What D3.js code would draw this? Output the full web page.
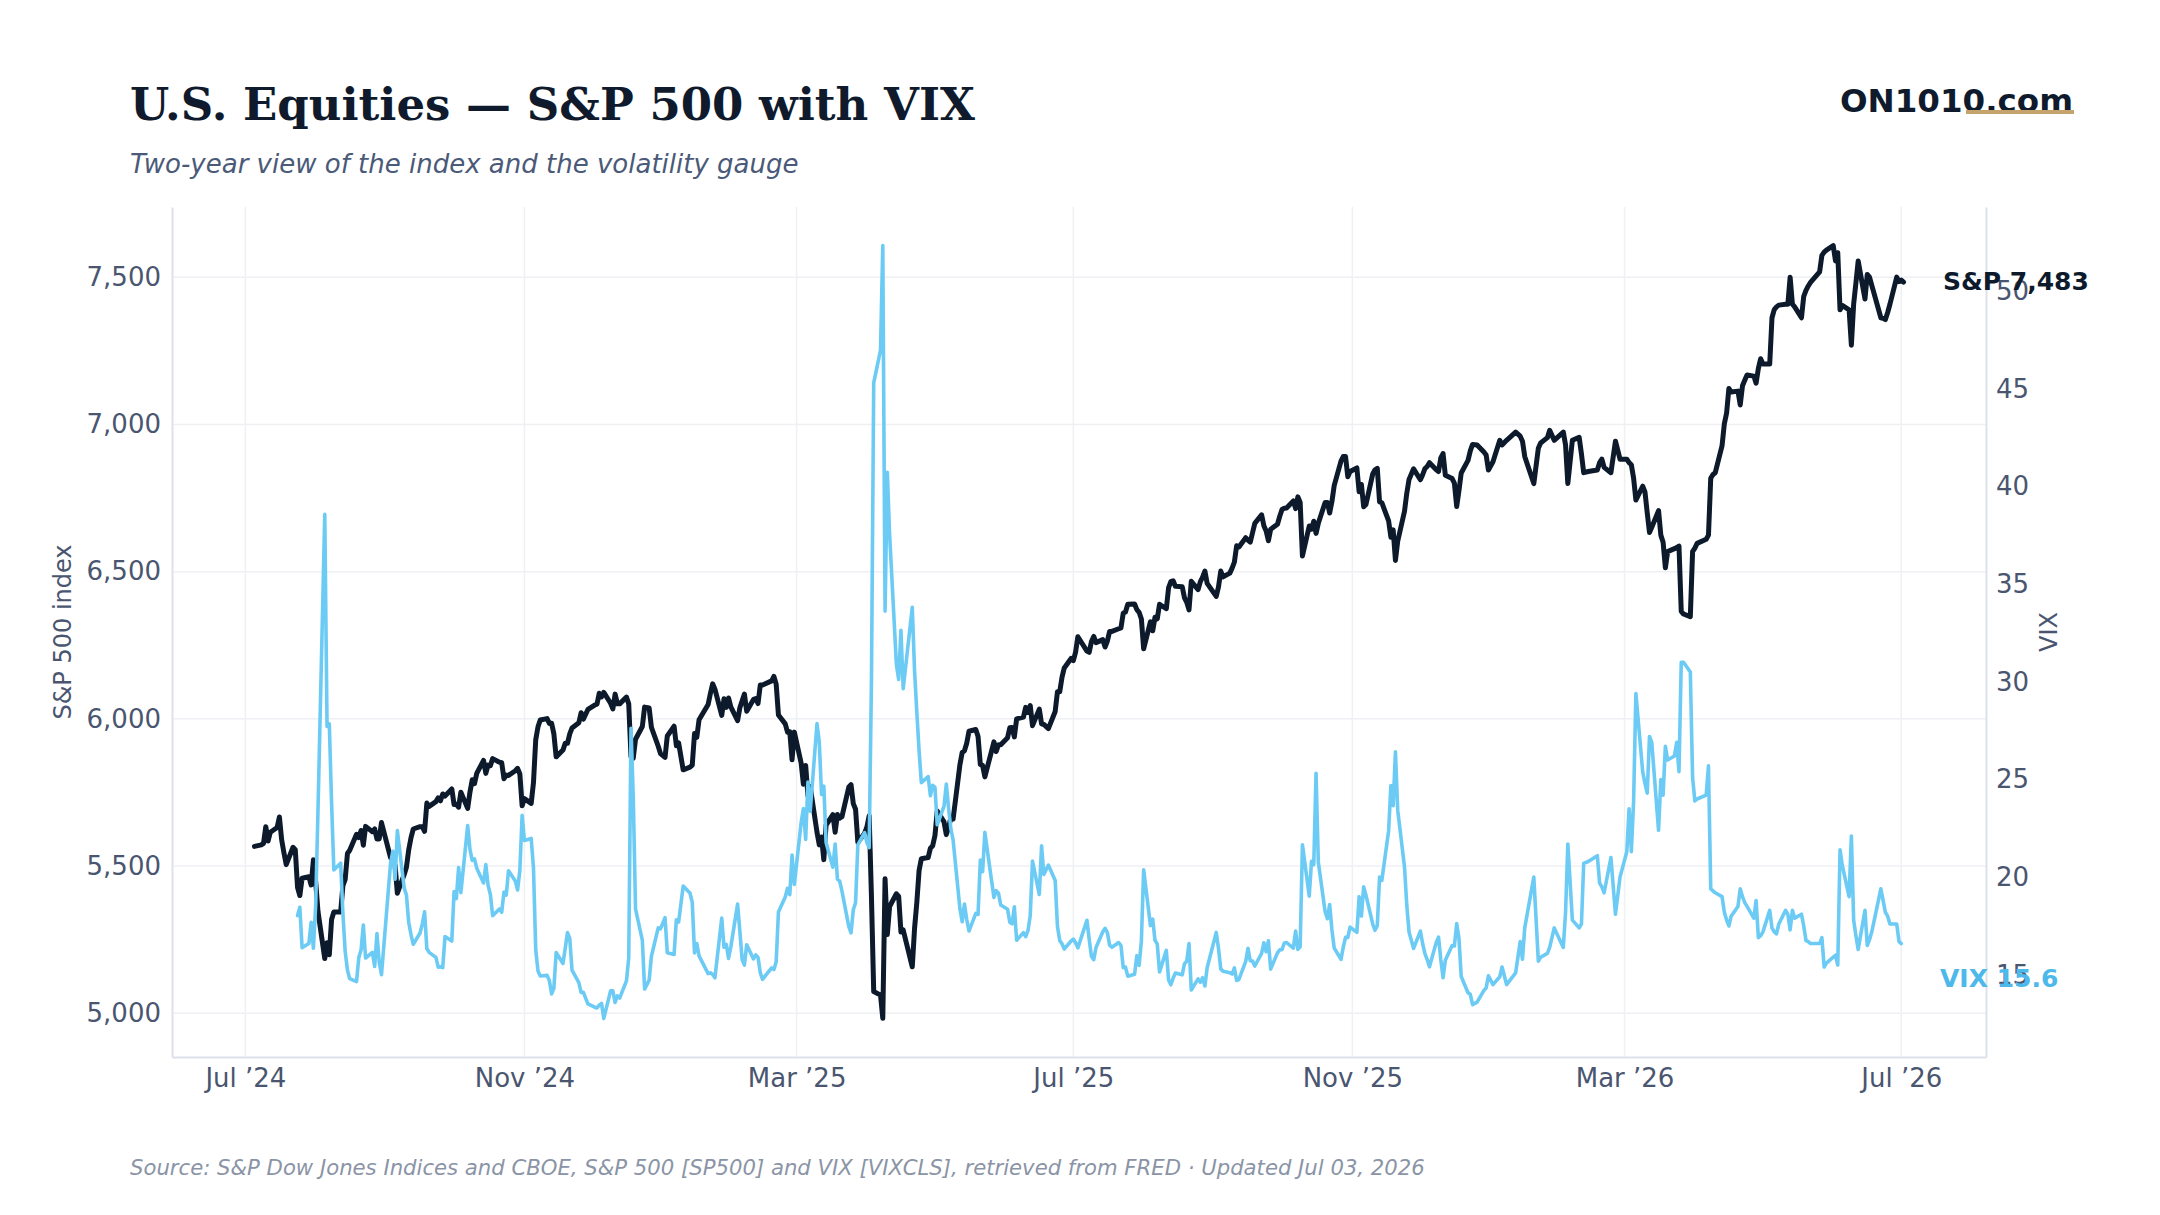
<!DOCTYPE html>
<html><head><meta charset="utf-8">
<script src="https://cdn.jsdelivr.net/npm/d3@7"></script>
<style>html,body{margin:0;padding:0;background:#fff;} svg{display:block;}</style>
</head><body><svg id="c" width="2160" height="1215"></svg>
<script>
// ---- data ----
const dates = [
"2024-07-05","2024-07-08","2024-07-09","2024-07-10","2024-07-11","2024-07-12","2024-07-15","2024-07-16","2024-07-17","2024-07-18","2024-07-19","2024-07-22","2024-07-23","2024-07-24","2024-07-25","2024-07-26","2024-07-29","2024-07-30","2024-07-31",
"2024-08-01","2024-08-02","2024-08-05","2024-08-06","2024-08-07","2024-08-08","2024-08-09","2024-08-12","2024-08-13","2024-08-14","2024-08-15","2024-08-16","2024-08-19","2024-08-20","2024-08-21","2024-08-22","2024-08-23","2024-08-26","2024-08-27","2024-08-28","2024-08-29","2024-08-30",
"2024-09-03","2024-09-04","2024-09-05","2024-09-06","2024-09-09","2024-09-10","2024-09-11","2024-09-12","2024-09-13","2024-09-16","2024-09-17","2024-09-18","2024-09-19","2024-09-20","2024-09-23","2024-09-24","2024-09-25","2024-09-26","2024-09-27","2024-09-30",
"2024-10-01","2024-10-02","2024-10-03","2024-10-04","2024-10-07","2024-10-08","2024-10-09","2024-10-10","2024-10-11","2024-10-14","2024-10-15","2024-10-16","2024-10-17","2024-10-18","2024-10-21","2024-10-22","2024-10-23","2024-10-24","2024-10-25","2024-10-28","2024-10-29","2024-10-30","2024-10-31",
"2024-11-01","2024-11-04","2024-11-05","2024-11-06","2024-11-07","2024-11-08","2024-11-11","2024-11-12","2024-11-13","2024-11-14","2024-11-15","2024-11-18","2024-11-19","2024-11-20","2024-11-21","2024-11-22","2024-11-25","2024-11-26","2024-11-27","2024-11-29",
"2024-12-02","2024-12-03","2024-12-04","2024-12-05","2024-12-06","2024-12-09","2024-12-10","2024-12-11","2024-12-12","2024-12-13","2024-12-16","2024-12-17","2024-12-18","2024-12-19","2024-12-20","2024-12-23","2024-12-24","2024-12-26","2024-12-27","2024-12-30","2024-12-31",
"2025-01-02","2025-01-03","2025-01-06","2025-01-07","2025-01-08","2025-01-10","2025-01-13","2025-01-14","2025-01-15","2025-01-16","2025-01-17","2025-01-21","2025-01-22","2025-01-23","2025-01-24","2025-01-27","2025-01-28","2025-01-29","2025-01-30","2025-01-31",
"2025-02-03","2025-02-04","2025-02-05","2025-02-06","2025-02-07","2025-02-10","2025-02-11","2025-02-12","2025-02-13","2025-02-14","2025-02-18","2025-02-19","2025-02-20","2025-02-21","2025-02-24","2025-02-25","2025-02-26","2025-02-27","2025-02-28",
"2025-03-03","2025-03-04","2025-03-05","2025-03-06","2025-03-07","2025-03-10","2025-03-11","2025-03-12","2025-03-13","2025-03-14","2025-03-17","2025-03-18","2025-03-19","2025-03-20","2025-03-21","2025-03-24","2025-03-25","2025-03-26","2025-03-27","2025-03-28","2025-03-31",
"2025-04-01","2025-04-02","2025-04-03","2025-04-04","2025-04-07","2025-04-08","2025-04-09","2025-04-10","2025-04-11","2025-04-14","2025-04-15","2025-04-16","2025-04-17","2025-04-21","2025-04-22","2025-04-23","2025-04-24","2025-04-25","2025-04-28","2025-04-29","2025-04-30",
"2025-05-01","2025-05-02","2025-05-05","2025-05-06","2025-05-07","2025-05-08","2025-05-09","2025-05-12","2025-05-13","2025-05-14","2025-05-15","2025-05-16","2025-05-19","2025-05-20","2025-05-21","2025-05-22","2025-05-23","2025-05-27","2025-05-28","2025-05-29","2025-05-30",
"2025-06-02","2025-06-03","2025-06-04","2025-06-05","2025-06-06","2025-06-09","2025-06-10","2025-06-11","2025-06-12","2025-06-13","2025-06-16","2025-06-17","2025-06-18","2025-06-20","2025-06-23","2025-06-24","2025-06-25","2025-06-26","2025-06-27","2025-06-30",
"2025-07-01","2025-07-02","2025-07-03","2025-07-07","2025-07-08","2025-07-09","2025-07-10","2025-07-11","2025-07-14","2025-07-15","2025-07-16","2025-07-17","2025-07-18","2025-07-21","2025-07-22","2025-07-23","2025-07-24","2025-07-25","2025-07-28","2025-07-29","2025-07-30","2025-07-31",
"2025-08-01","2025-08-04","2025-08-05","2025-08-06","2025-08-07","2025-08-08","2025-08-11","2025-08-12","2025-08-13","2025-08-14","2025-08-15","2025-08-18","2025-08-19","2025-08-20","2025-08-21","2025-08-22","2025-08-25","2025-08-26","2025-08-27","2025-08-28","2025-08-29",
"2025-09-02","2025-09-03","2025-09-04","2025-09-05","2025-09-08","2025-09-09","2025-09-10","2025-09-11","2025-09-12","2025-09-15","2025-09-16","2025-09-17","2025-09-18","2025-09-19","2025-09-22","2025-09-23","2025-09-24","2025-09-25","2025-09-26","2025-09-29","2025-09-30",
"2025-10-01","2025-10-02","2025-10-03","2025-10-06","2025-10-07","2025-10-08","2025-10-09","2025-10-10","2025-10-13","2025-10-14","2025-10-15","2025-10-16","2025-10-17","2025-10-20","2025-10-21","2025-10-22","2025-10-23","2025-10-24","2025-10-27","2025-10-28","2025-10-29","2025-10-30","2025-10-31",
"2025-11-03","2025-11-04","2025-11-05","2025-11-06","2025-11-07","2025-11-10","2025-11-11","2025-11-12","2025-11-13","2025-11-14","2025-11-17","2025-11-18","2025-11-19","2025-11-20","2025-11-21","2025-11-24","2025-11-25","2025-11-26","2025-11-28",
"2025-12-01","2025-12-02","2025-12-03","2025-12-04","2025-12-05","2025-12-08","2025-12-09","2025-12-10","2025-12-11","2025-12-12","2025-12-15","2025-12-16","2025-12-17","2025-12-18","2025-12-19","2025-12-22","2025-12-23","2025-12-24","2025-12-26","2025-12-29","2025-12-30","2025-12-31",
"2026-01-02","2026-01-05","2026-01-06","2026-01-08","2026-01-12","2026-01-14","2026-01-15","2026-01-16","2026-01-20","2026-01-22","2026-01-23","2026-01-26","2026-01-27","2026-01-29",
"2026-02-02","2026-02-03","2026-02-04","2026-02-06","2026-02-09","2026-02-10","2026-02-11","2026-02-13","2026-02-17","2026-02-18","2026-02-19","2026-02-20","2026-02-23","2026-02-25","2026-02-27",
"2026-03-02","2026-03-03","2026-03-04","2026-03-05","2026-03-06","2026-03-09","2026-03-10","2026-03-11","2026-03-12","2026-03-13","2026-03-16","2026-03-17","2026-03-18","2026-03-19","2026-03-20","2026-03-23","2026-03-24","2026-03-25","2026-03-26","2026-03-27","2026-03-30","2026-03-31",
"2026-04-01","2026-04-02","2026-04-06","2026-04-07","2026-04-08","2026-04-09","2026-04-10","2026-04-13","2026-04-14","2026-04-15","2026-04-16","2026-04-17","2026-04-20","2026-04-21","2026-04-22","2026-04-23","2026-04-24","2026-04-27","2026-04-28","2026-04-29","2026-04-30",
"2026-05-01","2026-05-04","2026-05-05","2026-05-06","2026-05-07","2026-05-08","2026-05-11","2026-05-12","2026-05-13","2026-05-14","2026-05-15","2026-05-18","2026-05-19","2026-05-20","2026-05-21","2026-05-22","2026-05-26","2026-05-27","2026-05-28","2026-05-29",
"2026-06-01","2026-06-02","2026-06-03","2026-06-04","2026-06-05","2026-06-08","2026-06-09","2026-06-10","2026-06-11","2026-06-12","2026-06-15","2026-06-16","2026-06-17","2026-06-18","2026-06-22","2026-06-23","2026-06-24","2026-06-25","2026-06-26","2026-06-29","2026-06-30",
"2026-07-01","2026-07-02"
];
const spx = [
5567,5572,5577,5634,5585,5615,5631,5667,5589,5545,5505,5564,5556,5427,5400,5459,5464,5436,5522,
5446,5346,5186,5240,5199,5319,5344,5344,5434,5455,5543,5554,5608,5597,5621,5571,5635,5617,5626,5592,5592,5648,
5529,5520,5503,5408,5471,5496,5555,5596,5626,5634,5634,5618,5714,5703,5719,5732,5722,5745,5738,5762,
5709,5710,5700,5751,5696,5751,5793,5780,5815,5859,5815,5843,5841,5865,5853,5851,5797,5809,5808,5824,5832,5813,5705,
5729,5713,5783,5929,5973,5996,6001,5984,5985,5949,5871,5894,5917,5917,5949,5969,5987,6021,5999,6032,
6047,6050,6087,6075,6090,6053,6034,6084,6051,6051,6074,6051,5872,5867,5931,5974,6040,6037,5971,5907,5882,
5869,5942,5975,5909,5918,5827,5836,5843,5950,5937,5997,6049,6086,6119,6101,6012,6068,6039,6071,6041,
5994,6038,6061,6084,6026,6066,6069,6052,6115,6115,6129,6144,6118,6013,5983,5955,5956,5861,5955,
5850,5778,5842,5739,5770,5615,5572,5599,5522,5639,5675,5615,5675,5663,5668,5768,5777,5712,5693,5581,5612,
5633,5671,5397,5074,5062,4983,5457,5268,5363,5406,5397,5276,5283,5158,5288,5376,5485,5525,5529,5561,5569,
5604,5687,5650,5607,5631,5664,5660,5844,5886,5892,5917,5958,5964,5940,5845,5842,5803,5922,5889,5912,5912,
5936,5970,5971,5939,6000,6006,6039,6022,6045,5977,6033,5983,5981,5967,6025,6092,6092,6141,6173,6205,
6198,6227,6279,6230,6226,6263,6280,6259,6269,6244,6264,6297,6297,6306,6309,6359,6363,6389,6390,6371,6362,6339,
6238,6330,6299,6345,6340,6389,6374,6446,6466,6469,6450,6449,6411,6396,6370,6467,6439,6466,6481,6502,6460,
6416,6448,6502,6482,6495,6512,6532,6588,6584,6615,6607,6600,6632,6664,6693,6656,6638,6605,6644,6661,6688,
6711,6715,6716,6740,6714,6754,6735,6553,6655,6644,6671,6630,6664,6735,6735,6699,6738,6792,6875,6891,6891,6822,6840,
6852,6771,6796,6720,6728,6832,6846,6851,6737,6734,6672,6617,6642,6538,6603,6705,6766,6813,6849,
6812,6829,6850,6857,6870,6846,6840,6886,6901,6827,6816,6800,6721,6775,6835,6878,6910,6932,6930,6906,6896,6845,
6873,6946,6930,6946,6974,6960,6943,6891,6799,6919,6937,6955,6980,6946,
6974,6930,6799,6946,6956,6900,6836,6840,6845,6870,6882,6854,6836,6943,6882,
6882,6870,6863,6817,6743,6790,6771,6700,6633,6651,6707,6624,6600,6513,6568,6578,6582,6587,6365,6356,6347,6568,
6580,6596,6610,6624,6817,6830,6836,6928,7002,7039,7122,7110,7113,7066,7131,7150,7168,7164,7140,7190,7223,
7205,7205,7362,7390,7399,7405,7408,7408,7500,7408,7399,7362,7435,7455,7470,7482,7518,7574,7585,7592,
7607,7555,7583,7389,7404,7389,7269,7408,7480,7555,7426,7509,7500,7472,7362,7360,7356,7380,7408,7500,7485,
7490,7483
];
const vix = [
null,null,null,null,null,null,null,null,null,null,null,null,null,18.04,18.46,16.39,16.60,17.69,16.36,
18.59,23.39,38.57,27.71,27.85,23.79,20.37,20.71,18.12,16.19,15.23,14.80,14.65,15.88,16.27,17.55,15.86,16.15,15.43,17.11,15.65,15.00,
20.72,21.32,19.90,22.38,19.45,19.08,17.69,17.07,16.56,17.14,17.61,18.23,16.33,16.15,15.89,15.39,15.41,15.37,16.96,16.73,
19.26,18.90,20.49,19.21,22.64,21.42,20.86,20.93,20.46,19.70,20.64,19.58,19.11,18.03,18.37,18.20,19.24,19.08,20.33,19.80,19.34,20.35,23.16,
21.88,21.98,20.49,16.27,15.20,14.94,14.97,14.71,14.02,14.31,16.14,15.58,16.35,17.16,16.87,15.24,14.60,14.10,14.10,13.51,
13.34,13.30,13.45,13.54,12.77,14.18,14.18,13.58,13.92,13.81,14.69,15.87,27.62,24.09,18.36,16.78,14.27,14.73,15.95,17.40,17.35,
17.93,16.13,16.04,17.82,17.70,19.54,19.19,18.71,16.12,16.60,15.97,15.06,15.10,15.02,14.85,17.90,16.41,16.56,15.84,16.43,
18.62,17.21,15.77,15.50,16.54,15.81,16.02,15.89,15.10,14.77,15.35,15.27,15.66,18.21,18.98,19.43,19.10,21.13,19.63,
22.78,23.51,21.93,24.87,23.37,27.86,26.92,24.23,24.66,21.77,20.51,21.70,19.90,19.80,19.28,17.48,17.15,18.33,18.69,21.65,22.28,
21.77,21.51,30.02,45.31,46.98,52.33,33.62,40.72,37.56,30.89,30.12,32.64,29.65,33.82,30.57,28.45,26.47,24.84,25.15,24.17,24.70,
24.60,22.68,23.64,24.76,23.55,22.48,21.90,18.39,17.72,18.62,17.83,17.24,18.14,18.09,20.87,20.28,22.29,18.96,19.31,19.18,18.57,
18.36,17.69,17.61,18.48,16.77,17.16,16.95,17.26,18.02,20.82,19.11,21.60,20.14,20.62,19.83,17.48,16.76,16.59,16.32,16.73,
16.83,16.64,16.38,17.79,16.81,15.94,15.78,16.40,17.20,17.38,17.16,16.52,16.41,16.65,16.50,15.37,15.39,14.93,15.03,15.98,15.48,16.72,
20.38,17.52,17.85,16.77,16.57,15.15,16.25,14.73,14.49,14.83,15.09,15.00,15.57,15.69,16.60,14.22,14.79,14.62,14.85,14.43,15.36,
17.17,16.35,15.30,15.18,15.11,15.04,15.35,14.71,14.76,15.69,16.36,15.72,15.70,15.45,16.10,16.64,16.18,16.74,15.29,16.12,16.28,
16.29,16.63,16.65,16.37,17.24,16.30,16.43,21.66,19.03,20.81,20.64,25.31,20.78,18.23,17.87,18.60,17.30,16.37,15.79,16.42,16.92,16.91,17.44,
17.17,19.00,18.01,19.50,19.08,17.60,17.28,17.51,20.00,19.83,22.38,24.69,23.66,26.42,23.43,20.52,18.56,17.19,16.35,
17.24,16.59,16.08,15.78,15.41,16.66,16.93,15.77,14.85,15.74,16.50,16.48,17.62,16.87,14.91,14.08,14.00,13.47,13.60,14.20,14.33,14.95,
14.5,14.9,15.4,14.5,15.1,16.7,15.8,17.4,20.0,15.7,15.9,16.1,16.4,17.4,
16.4,18.2,21.7,17.8,17.4,17.6,20.7,20.8,21.1,19.7,19.5,19.2,21.0,18.1,20.0,
21.3,23.5,21.3,23.9,29.4,25.4,24.8,24.3,27.2,26.9,22.4,25.0,24.2,26.7,26.0,26.2,26.9,25.4,31.0,31.0,30.5,25.1,
23.9,24.0,24.2,25.7,19.4,19.3,19.2,19.0,18.2,17.8,17.5,18.0,18.5,19.4,19.0,18.7,18.5,17.9,18.8,16.9,17.0,
17.2,18.3,17.4,17.2,17.1,17.6,18.3,18.1,17.3,18.3,17.9,18.1,17.5,16.75,16.7,16.6,16.6,16.9,15.4,15.6,
15.9,16.0,15.5,21.4,20.6,19.0,22.1,17.8,17.0,16.3,18.3,16.5,16.8,17.2,19.4,18.8,18.2,18.0,17.6,17.6,16.7,
16.6,null
];
const xTickDates = ["2024-07-01","2024-11-01","2025-03-01","2025-07-01","2025-11-01","2026-03-01","2026-07-01"];
const spxTicks = [5000,5500,6000,6500,7000,7500];
const vixTicks = [15,20,25,30,35,40,45,50];
const endLabels = ["S&P 7,483","VIX 15.6"];
const endLabelValues = [7483, 15.6];

// ---- layout ----
const W = 2160, H = 1215;
const m = {left:172, right:1986, top:207, bottom:1057};
const parse = d3.timeParse("%Y-%m-%d");
const D = dates.map(parse);
const spxData = D.map((d,i)=>({d, v: spx[i]}));
const vixData = D.map((d,i)=>({d, v: vix[i]}));

function padExtent(ext, p){ const r = ext[1]-ext[0]; return [ext[0]-r*p, ext[1]+r*p]; }
const xExt = d3.extent(D);
const xPad = (xExt[1]-xExt[0])*0.05;
const x = d3.scaleTime().domain([new Date(+xExt[0]-xPad), new Date(+xExt[1]+xPad)]).range([m.left, m.right]);
const yS = d3.scaleLinear().domain(padExtent(d3.extent(spx), 0.05)).range([m.bottom, m.top]);
const yV = d3.scaleLinear().domain(padExtent(d3.extent(vix.filter(v=>v!=null)), 0.05)).range([m.bottom, m.top]);

const svg = d3.select("#c");
svg.append("rect").attr("width",W).attr("height",H).attr("fill","#ffffff");

const sans = "'DejaVu Sans', sans-serif";
const tickCol = "#4a5670";

// Title block
svg.append("text").attr("x",130).attr("y",120)
  .attr("font-family","'DejaVu Serif', serif").attr("font-weight","bold").attr("font-size",45)
  .attr("fill","#0f1b2d").text("U.S. Equities — S&P 500 with VIX");
svg.append("text").attr("x",130).attr("y",173)
  .attr("font-family",sans).attr("font-style","italic").attr("font-size",26)
  .attr("fill","#4a5a78").text("Two-year view of the index and the volatility gauge");
svg.append("text").attr("x",2073).attr("y",112).attr("text-anchor","end")
  .attr("font-family",sans).attr("font-weight","bold").attr("font-size",32.5)
  .attr("fill","#0f1b2d").text("ON1010.com");
svg.append("rect").attr("x",1966).attr("y",110).attr("width",108).attr("height",4).attr("fill","#c4a46c");

// grid
const g = svg.append("g");
g.selectAll("line.hg").data(spxTicks).join("line")
  .attr("x1",m.left).attr("x2",m.right).attr("y1",d=>yS(d)).attr("y2",d=>yS(d))
  .attr("stroke","#eef0f4").attr("stroke-width",1.5);
const xTicks = xTickDates.map(parse);
g.selectAll("line.vg").data(xTicks).join("line")
  .attr("x1",d=>x(d)).attr("x2",d=>x(d)).attr("y1",m.top).attr("y2",m.bottom)
  .attr("stroke","#eef0f4").attr("stroke-width",1.5);

// axes
const fmtM = d3.timeFormat("%b");
const fmtY = d3.timeFormat("%y");
const xAxis = d3.axisBottom(x).tickValues(xTicks).tickSize(0).tickPadding(12)
  .tickFormat(d => fmtM(d) + " \u2019" + fmtY(d));
const gx = svg.append("g").attr("transform",`translate(0,${m.bottom})`).call(xAxis);
gx.select(".domain").attr("stroke","#dde2ea").attr("stroke-width",2);
gx.selectAll("text").attr("font-family",sans).attr("font-size",26).attr("fill",tickCol);

const yAxisL = d3.axisLeft(yS).tickValues(spxTicks).tickSize(0).tickPadding(11).tickFormat(d3.format(","));
const gyl = svg.append("g").attr("transform",`translate(${m.left},0)`).call(yAxisL);
gyl.select(".domain").attr("stroke","#dde2ea").attr("stroke-width",2);
gyl.selectAll("text").attr("font-family",sans).attr("font-size",26).attr("fill",tickCol);

const yAxisR = d3.axisRight(yV).tickValues(vixTicks).tickSize(0).tickPadding(10);
const gyr = svg.append("g").attr("transform",`translate(${m.right},0)`).call(yAxisR);
gyr.select(".domain").attr("stroke","#dde2ea").attr("stroke-width",2);
gyr.selectAll("text").attr("font-family",sans).attr("font-size",26).attr("fill",tickCol);

// axis titles
const midY = (m.top+m.bottom)/2;
svg.append("text").attr("transform",`translate(64,${midY}) rotate(-90)`).attr("text-anchor","middle")
  .attr("dominant-baseline","middle").attr("font-family",sans).attr("font-size",24).attr("fill",tickCol)
  .text("S&P 500 index");
svg.append("text").attr("transform",`translate(2050,${midY}) rotate(-90)`).attr("text-anchor","middle")
  .attr("dominant-baseline","middle").attr("font-family",sans).attr("font-size",24).attr("fill",tickCol)
  .text("VIX");

// lines
const lineS = d3.line().defined(d=>d.v!=null).x(d=>x(d.d)).y(d=>yS(d.v));
const lineV = d3.line().defined(d=>d.v!=null).x(d=>x(d.d)).y(d=>yV(d.v));
svg.append("path").datum(spxData).attr("d",lineS).attr("fill","none")
  .attr("stroke","#0c1a2c").attr("stroke-width",5).attr("stroke-linejoin","round").attr("stroke-linecap","round");
svg.append("path").datum(vixData).attr("d",lineV).attr("fill","none")
  .attr("stroke","#6ccbf4").attr("stroke-width",3.6).attr("stroke-linejoin","round").attr("stroke-linecap","round");

// end labels
svg.append("text").attr("x",1943).attr("y",yS(endLabelValues[0])).attr("dy","0.33em")
  .attr("font-family",sans).attr("font-weight","bold").attr("font-size",25).attr("fill","#0c1a2c")
  .text(endLabels[0]);
svg.append("text").attr("x",1940).attr("y",yV(endLabelValues[1])+15).attr("dy","0.35em")
  .attr("font-family",sans).attr("font-weight","bold").attr("font-size",25).attr("fill","#4db8ea")
  .text(endLabels[1]);

// source
svg.append("text").attr("x",130).attr("y",1175)
  .attr("font-family",sans).attr("font-style","italic").attr("font-size",21.2).attr("fill","#8a94a6")
  .text("Source: S&P Dow Jones Indices and CBOE, S&P 500 [SP500] and VIX [VIXCLS], retrieved from FRED · Updated Jul 03, 2026");
</script>
</body></html>
